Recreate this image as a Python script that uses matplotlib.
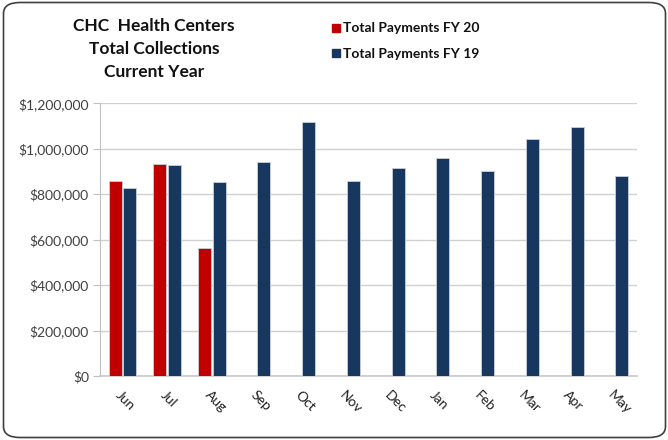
import matplotlib
matplotlib.use("Agg")
import matplotlib.pyplot as plt
import numpy as np
from matplotlib.patches import FancyBboxPatch
from matplotlib.ticker import FuncFormatter

months = ["Jun", "Jul", "Aug", "Sep", "Oct", "Nov", "Dec", "Jan", "Feb", "Mar", "Apr", "May"]
fy20 = [859000, 935000, 564000]
fy19 = [829000, 928000, 854000, 943000, 1117000, 856000, 915000, 960000, 902000, 1045000, 1096000, 878000]
title_lines = ["CHC  Health Centers", "Total Collections", "Current Year"]
legend_labels = ["Total Payments FY 20", "Total Payments FY 19"]
red = "#C00000"
navy = "#17375E"

plt.rcParams['font.family'] = ['Lato', 'DejaVu Sans']

fig = plt.figure(figsize=(6.68, 4.4), dpi=100)
W, H = 668, 440
ax = fig.add_axes([100 / W, 1 - 376 / H, 537 / W, (376 - 103.3) / H])

x = np.arange(len(months))
bw = 0.29
off = 0.16
ax.bar(x[:len(fy20)] - off, fy20, width=bw, color=red, edgecolor="#c8d0dc", linewidth=0.6, zorder=3)
ax.bar(x + off, fy19, width=bw, color=navy, edgecolor="#c8d0dc", linewidth=0.6, zorder=3)

ax.set_xlim(-0.5, len(months) - 0.5)
ax.set_ylim(0, 1200000)
ax.set_yticks(np.arange(0, 1200001, 200000))
ax.yaxis.set_major_formatter(FuncFormatter(lambda v, p: "${:,.0f}".format(v)))
ax.grid(axis="y", color="#d0d0d0", linewidth=1.0, zorder=0)
ax.set_axisbelow(True)
for s in ["top", "right"]:
    ax.spines[s].set_visible(False)
ax.spines["left"].set_color("#c0c0c0")
ax.spines["bottom"].set_color("#c8c8c8")
ax.spines["bottom"].set_linewidth(1.2)
ax.tick_params(axis="y", length=5, color="#c0c0c0", labelsize=10, labelcolor="#404040", pad=3)
ax.tick_params(axis="x", length=0, labelsize=10, labelcolor="#202020", pad=9)
ax.set_xticks(x)
ax.set_xticklabels(months, rotation=-45, ha="left", rotation_mode="anchor")

# frame
frame = FancyBboxPatch((3.5 / W, 2.5 / H), 662 / W, 435 / H,
                       boxstyle="round,pad=0,rounding_size=0.025",
                       transform=fig.transFigure, facecolor="none",
                       edgecolor="#404040", linewidth=1.2)
fig.patches.append(frame)

for i, t in enumerate(title_lines):
    fig.text(154 / W, 1 - (26 + i * 23) / H, t, ha="center", va="center",
             fontsize=12.5, fontweight="bold", color="#111111")

for i, (lab, c) in enumerate(zip(legend_labels, [red, navy])):
    yy = 1 - (28 + i * 25.5) / H
    fig.patches.append(plt.Rectangle((332 / W, yy - 4 / H), 8 / W, 8 / H,
                                     transform=fig.transFigure, color=c))
    fig.text(343 / W, yy, lab, ha="left", va="center", fontsize=10,
             fontweight="bold", color="#111111")

fig.savefig("out.png", dpi=100)
